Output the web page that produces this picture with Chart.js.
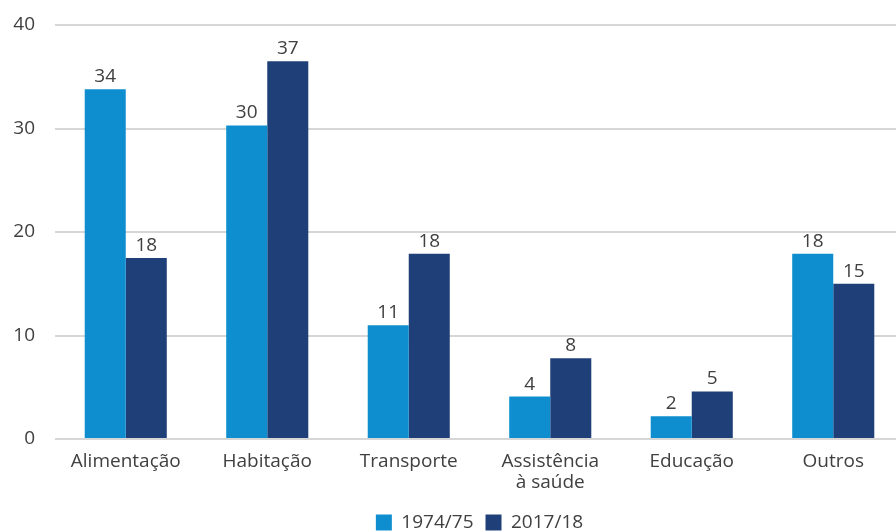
<!DOCTYPE html>
<html>
<head>
<meta charset="utf-8">
<script src="https://cdn.jsdelivr.net/npm/chart.js@4/dist/chart.umd.min.js"></script>
<style>
  html, body { margin: 0; padding: 0; background: #fff; overflow: hidden; }
  #wrap { width: 904px; height: 532px; }
</style>
</head>
<body>
<div id="wrap"><canvas id="gastosChart"></canvas></div>
<script>
// categorias e valores (% da despesa)
const categorias = ['Alimentação', 'Habitação', 'Transporte', ['Assistência', 'à saúde'], 'Educação', 'Outros'];
const anos = ['1974/75', '2017/18'];
const valores1974 = [33.8, 30.3, 11.0, 4.1, 2.2, 17.9];
const valores2017 = [17.5, 36.5, 17.9, 7.8, 4.6, 15.0];
const ticksY = [0, 10, 20, 30, 40];

const corTexto = '#404040';
const fonte = "'Open Sans', 'Noto Sans', sans-serif";
const tamFonte = 19;

// --- rótulos das barras e do eixo y ---
const rotulosPlugin = {
    id: 'rotulos',
    afterDatasetsDraw(chart) {
        const ctx = chart.ctx;
        ctx.save();
        ctx.fillStyle = corTexto;
        ctx.font = tamFonte + 'px ' + fonte;
        ctx.textAlign = 'center';
        ctx.textBaseline = 'alphabetic';
        chart.data.datasets.forEach((ds, i) => {
            chart.getDatasetMeta(i).data.forEach((bar, j) => {
                ctx.fillText(Math.round(ds.data[j]), bar.x, bar.y - 7);
            });
        });
        // eixo y desenhado à parte (legenda fica centrada como no original)
        const y = chart.scales.y;
        ctx.textAlign = 'right';
        ctx.textBaseline = 'middle';
        ticksY.forEach(v => ctx.fillText(v, chart.chartArea.left - 20, y.getPixelForValue(v)));
        ctx.restore();
    }
};

const ctx = document.getElementById('gastosChart').getContext('2d');
new Chart(ctx, {
    type: 'bar',
    data: {
        labels: categorias,
        datasets: [
            { label: anos[0], data: valores1974, backgroundColor: '#0e8ecf' },
            { label: anos[1], data: valores2017, backgroundColor: '#1f3f78' }
        ]
    },
    options: {
        responsive: true,
        maintainAspectRatio: false,
        animation: false,
        datasets: { bar: { barPercentage: 1, categoryPercentage: 0.58 } },
        layout: { padding: { top: 25, left: 55, right: 0, bottom: -10 } },
        scales: {
            x: {
                grid: { display: false },
                border: { display: false },
                afterFit: (axis) => { axis.height = 62; },
                ticks: { color: corTexto, font: { family: fonte, size: tamFonte, lineHeight: 1.1 }, padding: 4, maxRotation: 0 }
            },
            y: {
                min: 0, max: 40,
                afterBuildTicks: (axis) => { axis.ticks = ticksY.map(v => ({ value: v })); },
                afterFit: (axis) => { axis.width = 0; },
                grid: { color: '#d6d6d6', lineWidth: 2, drawTicks: false },
                border: { display: false },
                ticks: { display: false }
            }
        },
        plugins: {
            legend: {
                position: 'bottom',
                labels: { color: corTexto, font: { family: fonte, size: tamFonte }, boxWidth: 16, boxHeight: 16, padding: 12 }
            },
            tooltip: { enabled: false }
        }
    },
    plugins: [rotulosPlugin]
});
</script>
</body>
</html>
